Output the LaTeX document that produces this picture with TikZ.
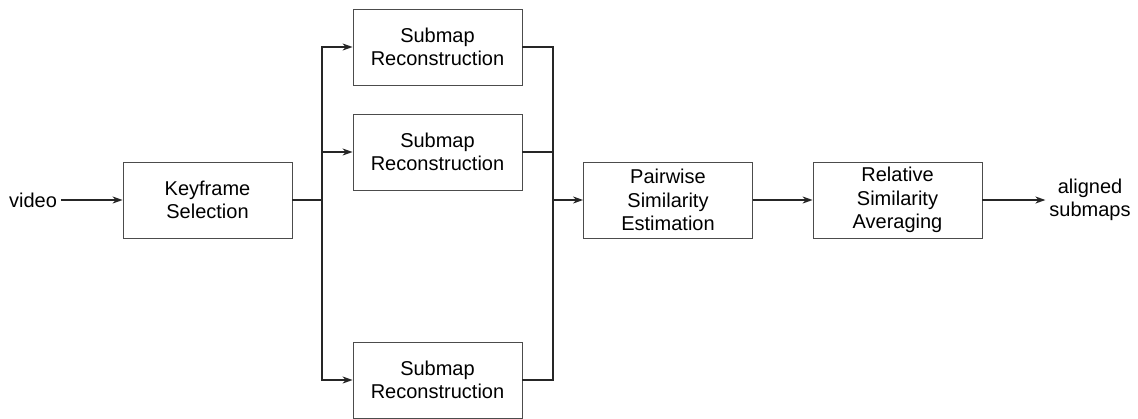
\documentclass[tikz,border=0pt]{standalone}
\usepackage{fontspec}
\setmainfont{Liberation Sans}
\usetikzlibrary{arrows.meta,positioning}

\tikzset{
  blk/.style={draw=black!70, line width=0.8pt, minimum width=169pt, minimum height=76pt,
    align=center, inner sep=0pt, font=\fontsize{20}{23.5}\selectfont},
  lbl/.style={align=center, inner sep=0pt, outer sep=4pt, font=\fontsize{20}{23.5}\selectfont},
  conn/.style={line width=1.5pt, draw=black!85},
  arr/.style={conn, -{Stealth[length=10pt,width=7pt,inset=3pt]}}
}

\begin{document}
\begin{tikzpicture}[x=1pt,y=-1pt]
\useasboundingbox (0,0) rectangle (1138,418);
\node[lbl] (video) at (33,200) {video};
\node[blk] (key) at (207.5,200) {Keyframe\\Selection};
\node[blk] (sub1) at (437.5,47) {Submap\\Reconstruction};
\node[blk] (sub2) at (437.5,152) {Submap\\Reconstruction};
\node[blk] (sub3) at (437.5,380) {Submap\\Reconstruction};
\node[blk] (pair) at (668,200) {Pairwise\\Similarity\\Estimation};
\node[blk] (rel) at (897.5,200) {Relative\\Similarity\\Averaging};
\node[lbl] (out) at (1090,200) {aligned\\submaps};
\coordinate (split) at (322,200);
\coordinate (join) at (553,200);
% input and split
\draw[arr] (video) -- (key);
\draw[conn] (key.east) -- (split);
\draw[arr] (split) |- (sub1.west);
\draw[arr] (split) |- (sub2.west);
\draw[arr] (split) |- (sub3.west);
% join
\draw[conn] (sub1.east) -| (join);
\draw[conn] (sub2.east) -| (join);
\draw[conn] (sub3.east) -| (join);
\draw[arr] (join) -- (pair.west);
\draw[arr] (pair) -- (rel);
\draw[arr] (rel.east) -- (out.west);
\end{tikzpicture}
\end{document}
